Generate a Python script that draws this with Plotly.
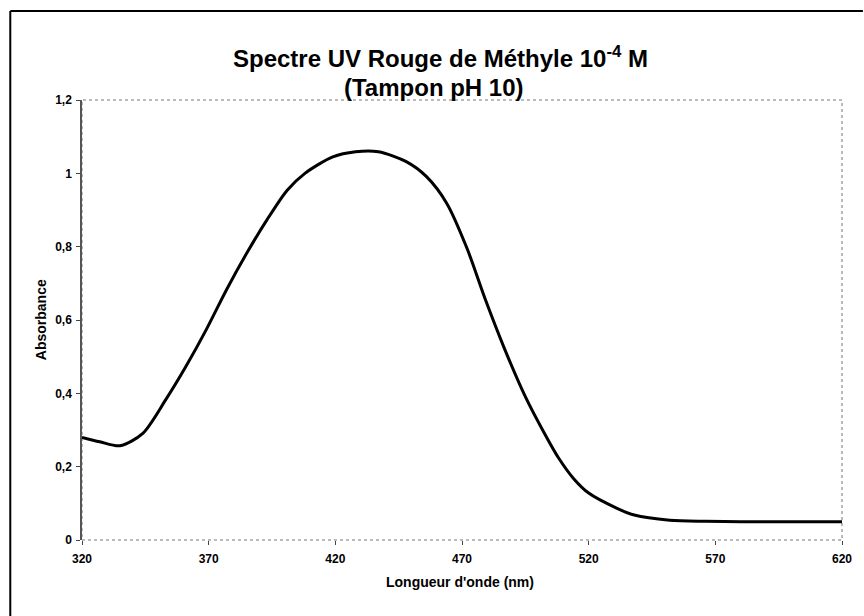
import plotly.graph_objects as go

wavelength = [320, 327, 335, 344, 353, 361, 369, 377, 385, 393, 401, 408, 419, 428, 437, 448,
              456, 464, 472, 479, 487, 495, 503, 508, 514, 520, 531, 538, 552, 566, 580, 600, 620]
absorbance = [0.28, 0.268, 0.257, 0.291, 0.382, 0.473, 0.573, 0.682, 0.782, 0.873, 0.954, 1.0,
              1.045, 1.059, 1.059, 1.032, 0.991, 0.918, 0.795, 0.66, 0.518, 0.391, 0.285, 0.225,
              0.168, 0.128, 0.087, 0.068, 0.054, 0.051, 0.05, 0.05, 0.05]
x_ticks = [320, 370, 420, 470, 520, 570, 620]
y_ticks = [0, 0.2, 0.4, 0.6, 0.8, 1.0, 1.2]

title_line1 = "Spectre UV Rouge de Méthyle 10<sup>-4</sup> M"
title_line2 = "(Tampon pH 10)"
x_title = "Longueur d'onde (nm)"
y_title = "Absorbance"

FONT = "Liberation Sans, Arial, sans-serif"
W, H = 864, 616
L, R, T, B = 82, 19, 100, 76
pw, ph = W - L - R, H - T - B

def px(xp):
    return (xp - L) / pw

def py(yp):
    return 1 - (yp - T) / ph

fig = go.Figure()
fig.add_trace(go.Scatter(x=wavelength, y=absorbance, mode="lines",
                         line=dict(color="black", width=3, shape="spline", smoothing=0.8),
                         showlegend=False, hoverinfo="skip"))

fig.update_layout(
    width=W, height=H,
    margin=dict(l=L, r=R, t=T, b=B),
    paper_bgcolor="white", plot_bgcolor="white",
    separators=", ",
    font=dict(family=FONT, color="black"),
    xaxis=dict(range=[320, 620], tickvals=x_ticks, showgrid=False, zeroline=False,
               showline=False, ticks="outside", ticklen=4, tickcolor="#444",
               tickfont=dict(size=12, weight="bold", family=FONT), ticklabelstandoff=4),
    yaxis=dict(range=[0, 1.2], tickvals=y_ticks, showgrid=False, zeroline=False,
               showline=True, linecolor="#555", linewidth=1.5, ticks="outside",
               ticklen=4, tickcolor="#444", ticklabelstandoff=2,
               tickfont=dict(size=12, weight="bold", family=FONT)),
    shapes=[
        dict(type="rect", xref="paper", yref="paper", x0=0, x1=1, y0=0, y1=1,
             line=dict(color="#777", width=1, dash="dot"), layer="below"),
        dict(type="line", xref="paper", yref="paper", x0=px(10), x1=px(866), y0=py(11), y1=py(11),
             line=dict(color="black", width=2)),
        dict(type="line", xref="paper", yref="paper", x0=px(10), x1=px(10), y0=py(11), y1=py(620),
             line=dict(color="black", width=2)),
    ],
    annotations=[
        dict(text="<b>" + title_line1 + "</b>", xref="paper", yref="paper",
             x=px(442), y=py(57), showarrow=False, xanchor="center", yanchor="middle",
             font=dict(size=24, family=FONT)),
        dict(text="<b>" + title_line2 + "</b>", xref="paper", yref="paper",
             x=px(435), y=py(88), showarrow=False, xanchor="center", yanchor="middle",
             font=dict(size=24, family=FONT)),
        dict(text="<b>" + x_title + "</b>", xref="paper", yref="paper",
             x=px(461), y=py(582), showarrow=False, xanchor="center", yanchor="middle",
             font=dict(size=14, family=FONT)),
        dict(text="<b>" + y_title + "</b>", xref="paper", yref="paper",
             x=px(41), y=py(320), showarrow=False, xanchor="center", yanchor="middle",
             textangle=-90, font=dict(size=14, family=FONT)),
    ],
)

fig.write_html("out.html", config={"displayModeBar": False},
               post_script="document.body.style.margin='0';")
